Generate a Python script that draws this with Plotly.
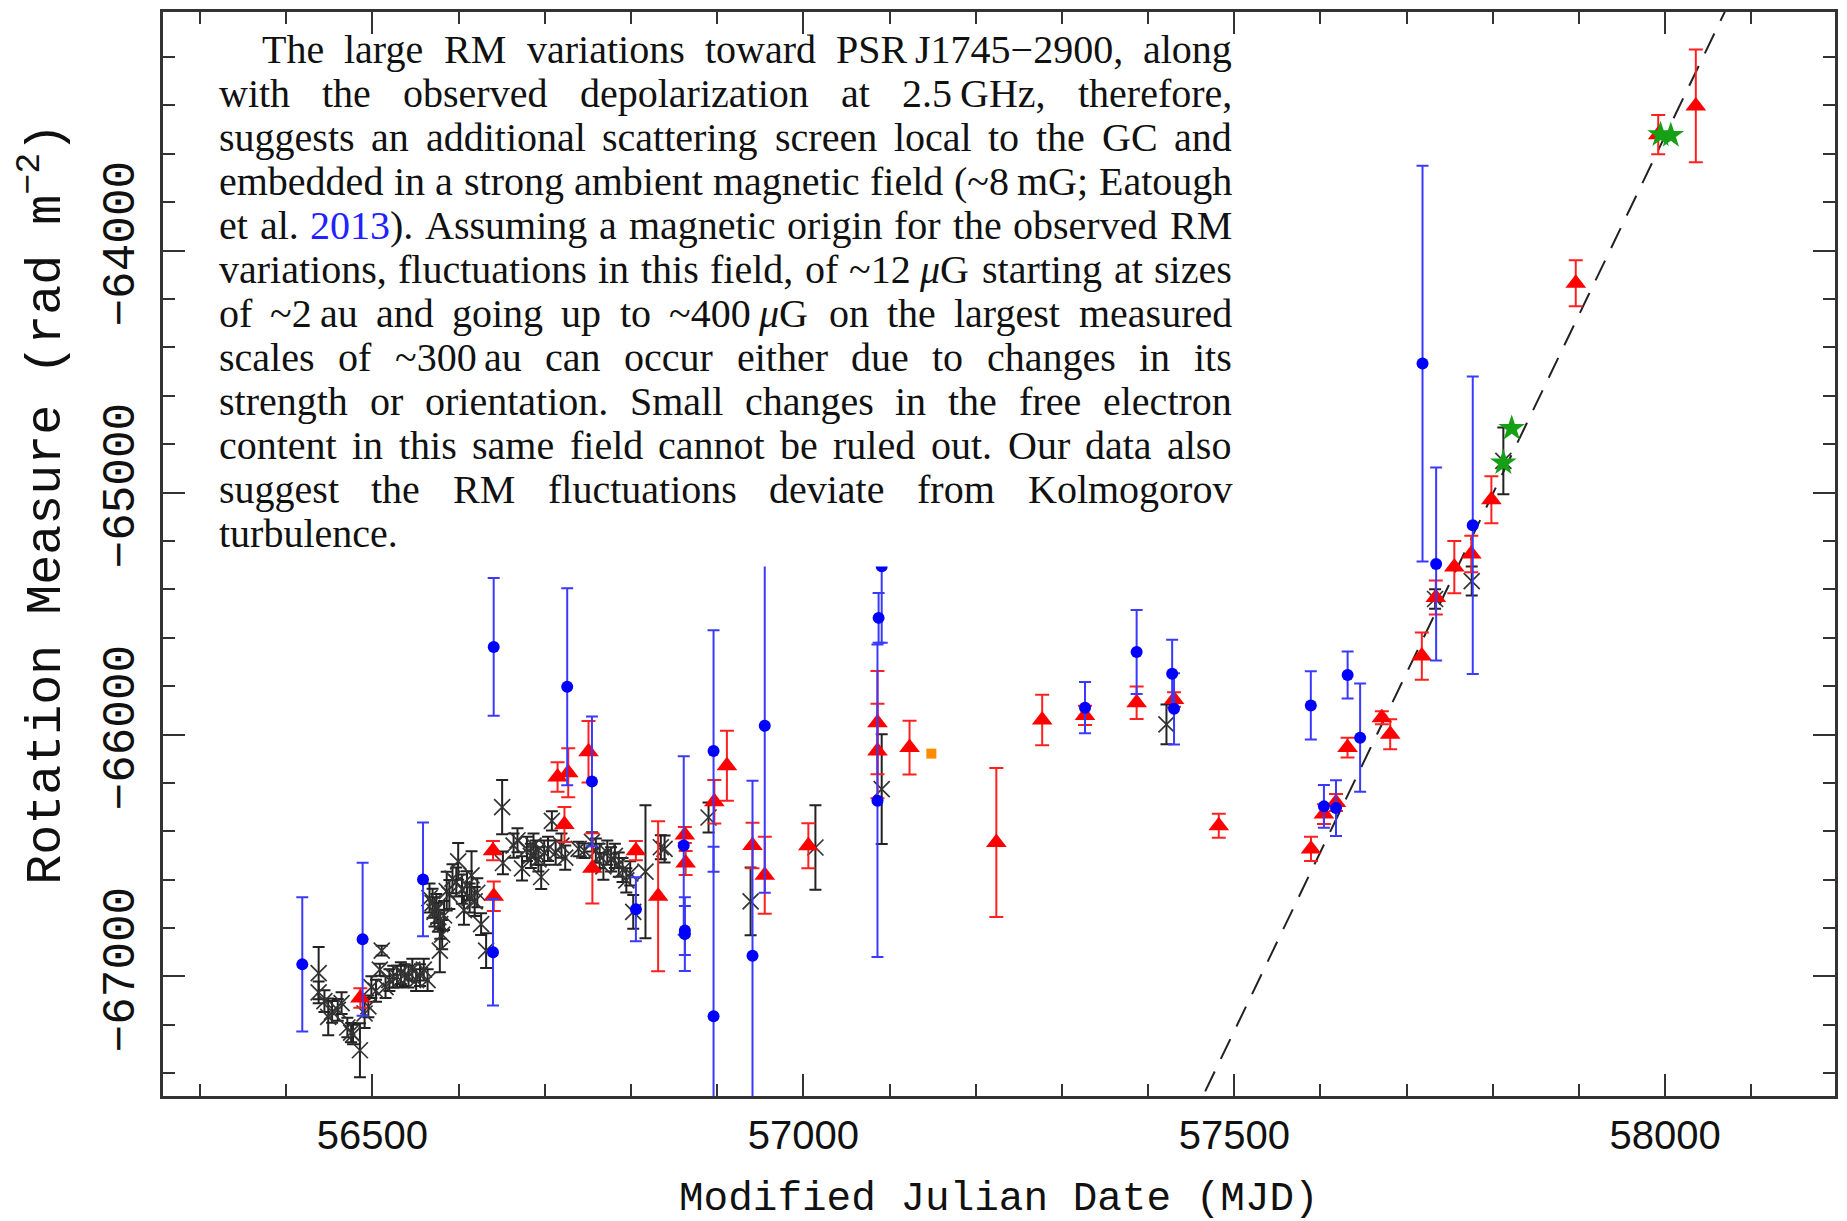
import plotly.graph_objects as go

# ---------------- data: rotation measure of PSR J1745-2900 ----------------
# black crosses
black_mjd = [56437.6, 56437.6, 56444.3, 56448.7, 56453.2, 56459.8, 56464.2, 56470.9, 56475.3, 56477.5,
             56485.5, 56490.9, 56495.3, 56498.8, 56504.2, 56508.6, 56510.8, 56515.2, 56519.7, 56524.1,
             56528.5, 56533.0, 56537.4, 56541.9, 56546.3, 56550.7, 56555.2, 56559.6, 56564.0, 56566.2,
             56569.8, 56572.0, 56574.2, 56576.4, 56578.7, 56580.9, 56578.2, 56583.1, 56586.2, 56589.3,
             56592.9, 56597.3, 56599.5, 56603.9, 56606.2, 56609.7, 56612.8, 56615.0, 56618.6, 56621.7,
             56626.1, 56631.9, 56650.5, 56651.4, 56663.8, 56668.3, 56673.6, 56679.3, 56683.8, 56686.9,
             56689.5, 56692.6, 56695.8, 56699.3, 56703.7, 56708.2, 56712.6, 56719.3, 56723.7, 56739.2,
             56745.9, 56754.7, 56759.2, 56763.6, 56768.0, 56772.5, 56776.9, 56781.3, 56785.8, 56790.2,
             56794.6, 56799.1, 56802.6, 56816.8, 56834.6, 56839.0, 56890.0, 56938.8, 57014.0, 57090.9,
             57421.3, 57733.0, 57775.5, 57812.2]
black_rm = [-66986, -67066, -67102, -67167, -67146, -67138, -67110, -67211, -67232, -67240,
            -67305, -67153, -67124, -67044, -67059, -66972, -66893, -67044, -67015, -67001,
            -67001, -66986, -66994, -67001, -66972, -67015, -66994, -66972, -67015, -66676,
            -66697, -66733, -66719, -66755, -66784, -66827, -66893, -66748, -66647, -66661,
            -66596, -66610, -66524, -66639, -66726, -66625, -66676, -66582, -66690, -66654,
            -66784, -66893, -66300, -66531, -66459, -66437, -66553, -66473, -66502, -66459,
            -66488, -66516, -66589, -66488, -66473, -66357, -66488, -66459, -66509, -66473,
            -66480, -66444, -66480, -66502, -66545, -66488, -66516, -66502, -66538, -66560,
            -66603, -66574, -66733, -66567, -66466, -66473, -66343, -66690, -66467, -66226,
            -65958, -65440, -65366, -64869]
black_err = [108, 45, 45, 76, 45, 45, 45, 40, 40, 40,
             112, 60, 45, 45, 45, 25, 20, 45, 45, 45,
             45, 45, 45, 45, 45, 45, 45, 45, 45, 60,
             60, 60, 60, 60, 60, 60, 90, 60, 80, 60,
             60, 60, 76, 60, 60, 60, 60, 100, 60, 60,
             45, 72, 112, 47, 50, 50, 50, 50, 50, 50,
             50, 50, 50, 50, 50, 40, 50, 50, 50, 30,
             30, 40, 50, 50, 55, 50, 50, 50, 50, 50,
             50, 50, 70, 275, 50, 56, 62, 140, 175, 227,
             82, 40, 60, 138]

# red triangles
red_mjd = [56486.0, 56639.9, 56640.8, 56714.8, 56722.8, 56727.2, 56750.7, 56755.2, 56805.7, 56831.5,
           56862.5, 56863.4, 56896.7, 56911.3, 56941.0, 56955.2, 57005.8, 57086.0, 57086.0, 57123.2,
           57223.9, 57277.1, 57326.8, 57386.7, 57430.1, 57482.0, 57589.0, 57604.0, 57618.0, 57631.4,
           57671.2, 57680.9, 57717.6, 57733.8, 57755.3, 57775.0, 57798.3, 57896.2, 57991.9, 58035.5]
red_rm = [-67089, -66480, -66668, -66176, -66372, -66158, -66071, -66553, -66480, -66668,
          -66415, -66531, -66278, -66129, -66459, -66582, -66460, -65951, -66068, -66054,
          -66446, -65940, -65921, -65869, -65855, -66377, -66473, -66329, -66281, -66054,
          -65931, -65999, -65676, -65434, -65308, -65254, -65030, -64135, -63521, -63402]
red_err = [40, 40, 61, 61, 72, 101, 127, 145, 40, 310,
           33, 50, 90, 145, 94, 159, 93, 213, 195, 111,
           308, 104, 40, 67, 30, 50, 50, 41, 35, 41,
           27, 62, 98, 70, 108, 75, 97, 95, 81, 233]

# blue circles
blue_mjd = [56418.6, 56488.6, 56558.7, 56640.7, 56639.9, 56726.0, 56754.7, 56805.7, 56861.2, 56862.5,
            56862.5, 56895.8, 56895.8, 56941.0, 56955.2, 57086.0, 57087.3, 57090.9, 57326.8, 57386.7,
            57427.9, 57430.1, 57588.8, 57604.0, 57618.0, 57631.5, 57646.0, 57718.4, 57734.2, 57776.7]
blue_rm = [-66950, -66846, -66599, -65638, -66900, -65803, -66194, -66722, -66459, -66810,
           -66825, -66068, -67164, -66914, -65964, -66274, -65518, -65305, -65889, -65659,
           -65749, -65894, -65880, -66297, -66304, -65754, -66013, -64467, -65295, -65135]
blue_err = [277, 316, 235, 285, 220, 407, 268, 132, 369, 101,
            152, 499, 700, 723, 690, 646, 103, 316, 106, 174,
            141, 147, 141, 88, 115, 97, 224, 818, 399, 615]

# green stars
green_mjd = [57812.2, 57821.9, 57994.6, 58006.5]
green_rm = [-64877, -64735, -63521, -63524]

# orange square
orange_mjd = [57148.5]
orange_rm = [-66079]

# linear trend (dashed line)
FIT_MJD0 = 57800.0
FIT_RM0 = -65005.0
FIT_SLOPE = 7.40  # rad m^-2 per day
FIT_SPAN = [57430.0, 58110.0]

# axes
X_RANGE = [56257, 58197]
Y_RANGE = [-67494, -63014]
X_TICKS = [56500, 57000, 57500, 58000]
Y_TICKS = [-67000, -66000, -65000, -64000]

# paragraph shown in the upper-left of the panel ("_" = fixed thin gap)
PARAGRAPH = [
    "The large RM variations toward PSR_J1745\u22122900, along",
    "with the observed depolarization at 2.5_GHz, therefore,",
    "suggests an additional scattering screen local to the GC and",
    "embedded in a strong ambient magnetic field (~8_mG; Eatough",
    "et al. 2013). Assuming a magnetic origin for the observed RM",
    "variations, fluctuations in this field, of ~12_\u03bcG starting at sizes",
    "of ~2_au and going up to ~400_\u03bcG on the largest measured",
    "scales of ~300_au can occur either due to changes in its",
    "strength or orientation. Small changes in the free electron",
    "content in this same field cannot be ruled out. Our data also",
    "suggest the RM fluctuations deviate from Kolmogorov",
    "turbulence.",
]

# ---------------- geometry ----------------
W, H = 1847, 1221
ML, MR, MT, MB = 163, 10, 9, 125
PW, PH = W - ML - MR, H - MT - MB


def px(x):
    return (x - ML) / PW


def py(y):
    return (H - MB - y) / PH


AXIS_COLOR = "#333333"
MONO = "Liberation Mono, DejaVu Sans Mono, monospace"
SANS = "Liberation Sans, Arial, sans-serif"
SERIF = "Liberation Serif, Times New Roman, serif"

fig = go.Figure()

# dashed trend line
fx = FIT_SPAN
fy = [FIT_RM0 + FIT_SLOPE * (m - FIT_MJD0) for m in fx]
fig.add_trace(go.Scatter(x=fx, y=fy, mode="lines",
                         line=dict(color="#222222", width=2, dash="22px,14px"),
                         hoverinfo="skip", showlegend=False))

fig.add_trace(go.Scatter(
    x=black_mjd, y=black_rm, mode="markers",
    marker=dict(symbol="x-thin-open", size=16, color="#333333", line=dict(color="#333333", width=1.7)),
    error_y=dict(type="data", array=black_err, color="#222222", thickness=2, width=6),
    showlegend=False))

fig.add_trace(go.Scatter(
    x=red_mjd, y=red_rm, mode="markers",
    marker=dict(symbol="triangle-up", size=18, color="#ff0000", line=dict(width=0)),
    error_y=dict(type="data", array=red_err, color="#ff2020", thickness=2, width=7),
    showlegend=False))

fig.add_trace(go.Scatter(
    x=blue_mjd, y=blue_rm, mode="markers",
    marker=dict(symbol="circle", size=12, color="#0000ff", line=dict(width=0)),
    error_y=dict(type="data", array=blue_err, color="#3a3aff", thickness=2, width=6),
    showlegend=False))

fig.add_trace(go.Scatter(
    x=green_mjd, y=green_rm, mode="markers",
    marker=dict(symbol="star", size=20, color="#16a016", line=dict(width=0)),
    showlegend=False))

fig.add_trace(go.Scatter(
    x=orange_mjd, y=orange_rm, mode="markers",
    marker=dict(symbol="square", size=10, color="#ff8c00", line=dict(width=0)),
    showlegend=False))

fig.update_xaxes(
    range=X_RANGE, showgrid=False, zeroline=False,
    showline=True, linecolor=AXIS_COLOR, linewidth=2.5, mirror="ticks",
    ticks="inside", ticklen=22, tickwidth=2, tickcolor=AXIS_COLOR,
    tickvals=X_TICKS, ticktext=[str(v) for v in X_TICKS],
    minor=dict(ticks="inside", ticklen=12, tickwidth=2, tickcolor=AXIS_COLOR, dtick=100, tick0=56500),
    tickfont=dict(family=SANS, size=40, color="#111111"),
    ticklabelstandoff=2,
)
fig.update_yaxes(
    range=Y_RANGE, showgrid=False, zeroline=False,
    showline=True, linecolor=AXIS_COLOR, linewidth=2.5, mirror="ticks",
    ticks="inside", ticklen=22, tickwidth=2, tickcolor=AXIS_COLOR,
    tickvals=Y_TICKS, ticktext=["\u2212" + str(-v) for v in Y_TICKS],
    minor=dict(ticks="inside", ticklen=12, tickwidth=2, tickcolor=AXIS_COLOR, dtick=200, tick0=-64000),
    tickangle=-90,
    tickfont=dict(family=MONO, size=46, color="#111111"),
    ticklabelstandoff=8,
)

annotations = [
    dict(x=0.5, y=py(1199), xref="paper", yref="paper", showarrow=False,
         text="Modified Julian Date (MJD)", xanchor="center", yanchor="middle",
         font=dict(family=MONO, size=41, color="#111111")),
    dict(x=px(42), y=py(502), xref="paper", yref="paper", showarrow=False, textangle=-90,
         text="Rotation Measure (rad m<sup>\u22122</sup>)", xanchor="center", yanchor="middle",
         font=dict(family=MONO, size=50, color="#111111")),
]

# ---------------- justified paragraph ----------------
TEXT_SIZE = 40
TEXT_LEFT, TEXT_RIGHT, INDENT = 218, 1232, 43
LINE_Y0, LINE_DY = 46.5, 44.1
THIN = 0.2  # em, unstretched gap inside a token

_lower = dict(zip("abcdefghijklmnopqrstuvwxyz",
                  [444, 500, 444, 500, 444, 333, 500, 500, 278, 278, 500, 278, 778,
                   500, 500, 500, 500, 333, 389, 278, 500, 500, 722, 500, 500, 444]))
_upper = dict(zip("ABCDEFGHIJKLMNOPQRSTUVWXYZ",
                  [722, 667, 667, 722, 611, 556, 722, 722, 333, 389, 722, 611, 889,
                   722, 722, 556, 722, 667, 556, 611, 722, 722, 944, 722, 722, 611]))
TIMES_W = {**_lower, **_upper, **{d: 500 for d in "0123456789"},
           ",": 250, ".": 250, ";": 278, ":": 278, "(": 333, ")": 333, "-": 333,
           "~": 541, "\u03bc": 576, "\u2212": 564, " ": 250}


def piece_width(s):
    return sum(TIMES_W.get(c, 500) for c in s) * TEXT_SIZE / 1000.0


def token_width(tok):
    parts = tok.split("_")
    return sum(piece_width(p) for p in parts) + THIN * TEXT_SIZE * (len(parts) - 1)


def markup(s):
    s = s.replace("\u03bc", "<i>\u03bc</i>")
    if s.startswith("2013"):
        s = '<span style="color:#2222ff">2013</span>' + s[4:]
    return s


for i, line in enumerate(PARAGRAPH):
    yline = LINE_Y0 + i * LINE_DY
    tokens = line.split(" ")
    left = TEXT_LEFT + (INDENT if i == 0 else 0)
    widths = [token_width(t) for t in tokens]
    if i < len(PARAGRAPH) - 1 and len(tokens) > 1:
        gap = (TEXT_RIGHT - left - sum(widths)) / (len(tokens) - 1)
    else:
        gap = 0.25 * TEXT_SIZE
    x = left
    for tok, w in zip(tokens, widths):
        xp = x
        for j, part in enumerate(tok.split("_")):
            if j:
                xp += THIN * TEXT_SIZE
            annotations.append(dict(
                x=px(xp), y=py(yline), xref="paper", yref="paper", showarrow=False,
                text=markup(part), xanchor="left", yanchor="middle", borderpad=0,
                font=dict(family=SERIF, size=TEXT_SIZE, color="#111111")))
            xp += piece_width(part)
        x += w + gap

fig.update_layout(
    width=W, height=H,
    margin=dict(l=ML, r=MR, t=MT, b=MB, pad=0),
    paper_bgcolor="white", plot_bgcolor="white",
    showlegend=False,
    annotations=annotations,
    shapes=[dict(type="rect", xref="paper", yref="paper", layer="above",
                 x0=px(190), x1=px(1250), y0=py(565), y1=py(32),
                 fillcolor="white", line=dict(width=0))],
)

fig.write_html("out.html")
